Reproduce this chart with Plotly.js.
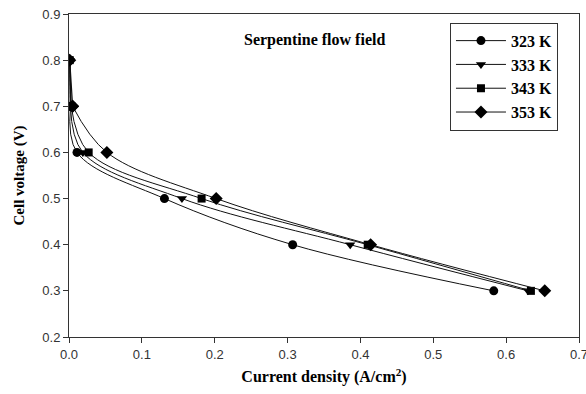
<!DOCTYPE html>
<html>
<head>
<script src="https://cdn.plot.ly/plotly-3.0.1.min.js"></script>
<style>html,body{margin:0;padding:0;background:#fff;overflow:hidden;}#chart{width:586px;height:394px;}</style>
</head>
<body>
<div id="chart"></div>
<script>
var voltage = [0.8, 0.7, 0.6, 0.5, 0.4, 0.3];
var seriesNames = ['323 K', '333 K', '343 K', '353 K'];
var current323 = [0.001, 0.002, 0.011, 0.131, 0.307, 0.583];
var current333 = [0.001, 0.002, 0.019, 0.155, 0.386, 0.630];
var current343 = [0.001, 0.003, 0.027, 0.182, 0.410, 0.634];
var current353 = [0.001, 0.005, 0.052, 0.202, 0.414, 0.653];
var xTicks = [0, 0.1, 0.2, 0.3, 0.4, 0.5, 0.6, 0.7];
var yTicks = [0.2, 0.3, 0.4, 0.5, 0.6, 0.7, 0.8, 0.9];

var symbols = ['circle', 'triangle-down', 'square', 'diamond'];
var sizes = [9, 9, 8, 10];
var allX = [current323, current333, current343, current353];

var traces = [];
allX.forEach(function (xs, i) {
  // steep top segment (0.8 -> 0.7), drawn straight
  traces.push({
    x: xs.slice(0, 2), y: voltage.slice(0, 2), type: 'scatter', mode: 'lines+markers',
    showlegend: false, hoverinfo: 'skip',
    line: {color: '#111', width: 1.2},
    marker: {symbol: symbols[i], size: sizes[i], color: '#000'}
  });
  // smooth polarization curve (0.7 -> 0.3)
  traces.push({
    x: xs.slice(1), y: voltage.slice(1), name: seriesNames[i], type: 'scatter', mode: 'lines+markers',
    line: {color: '#111', width: 1, shape: 'spline', smoothing: 1},
    marker: {symbol: symbols[i], size: sizes[i], color: '#000'}
  });
});

var serif = 'Liberation Serif, Times New Roman, serif';
var layout = {
  width: 586, height: 394,
  margin: {l: 69, r: 7, t: 14, b: 57},
  paper_bgcolor: '#fff', plot_bgcolor: '#fff',
  showlegend: true,
  legend: {
    x: 0.747, y: 0.973, xanchor: 'left', yanchor: 'top',
    bordercolor: '#333', borderwidth: 1, bgcolor: '#fff',
    font: {family: serif, size: 16, color: '#000', weight: 'bold'},
    tracegroupgap: 0, itemwidth: 50
  },
  xaxis: {
    range: [0, 0.7], tickvals: xTicks, tickformat: '.1f', ticklabeloverflow: 'allow',
    showgrid: false, zeroline: false, showline: true, linecolor: '#333', linewidth: 1,
    mirror: true, ticks: 'outside', ticklen: 5, tickcolor: '#333',
    tickfont: {family: 'Liberation Sans, Arial, sans-serif', size: 13, color: '#333'},
    title: {text: '<b>Current density (A/cm<sup>2</sup>)</b>', font: {family: serif, size: 16, color: '#000'}, standoff: 10}
  },
  yaxis: {
    range: [0.2, 0.9], tickvals: yTicks, tickformat: '.1f', ticklabeloverflow: 'allow',
    showgrid: false, zeroline: false, showline: true, linecolor: '#333', linewidth: 1,
    mirror: true, ticks: 'outside', ticklen: 5, tickcolor: '#333',
    tickfont: {family: 'Liberation Sans, Arial, sans-serif', size: 13, color: '#333'},
    title: {text: '<b>Cell voltage (V)</b>', font: {family: serif, size: 15, color: '#000'}, standoff: 14}
  },
  annotations: [{
    text: '<b>Serpentine flow field</b>', xref: 'paper', yref: 'paper',
    x: 0.482, y: 0.92, xanchor: 'center', yanchor: 'middle', showarrow: false,
    font: {family: serif, size: 16, color: '#000'}
  }]
};

Plotly.newPlot('chart', traces, layout, {displayModeBar: false, staticPlot: true});
</script>
</body>
</html>
